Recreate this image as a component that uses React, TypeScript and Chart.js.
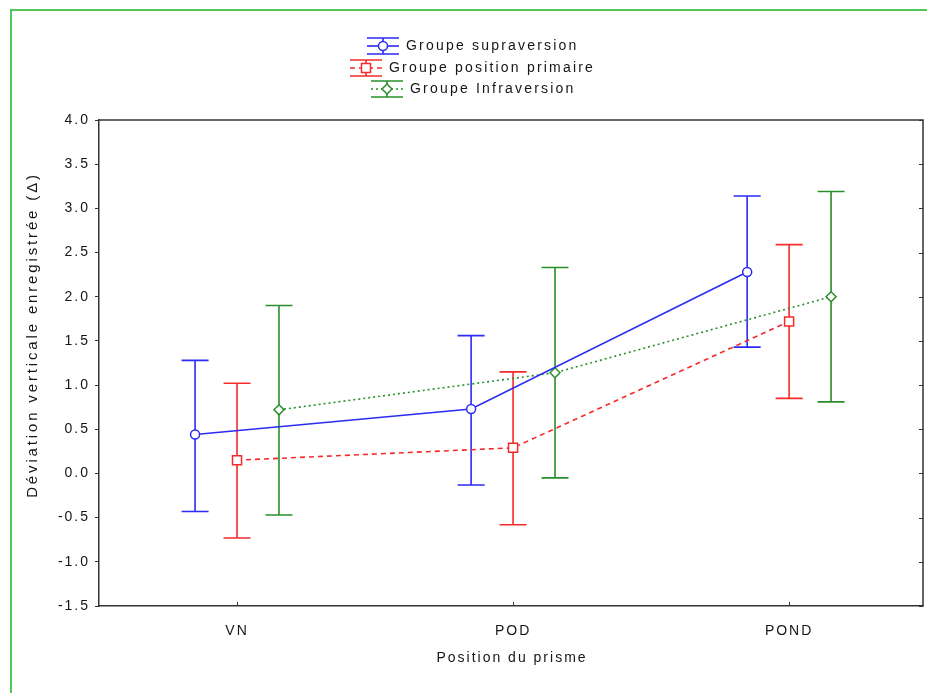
import React, { useEffect, useRef } from 'react';
import { Chart, registerables } from 'chart.js';

Chart.register(...registerables);

const categories = ['VN', 'POD', 'POND'];
const seriesNames = ['Groupe supraversion', 'Groupe position primaire', 'Groupe Infraversion'];

const supraMean = [0.44, 0.73, 2.28];
const supraLow = [-0.43, -0.13, 1.43];
const supraHigh = [1.28, 1.56, 3.14];

const primMean = [0.15, 0.29, 1.72];
const primLow = [-0.73, -0.58, 0.85];
const primHigh = [1.02, 1.15, 2.59];

const infraMean = [0.72, 1.14, 2.0];
const infraLow = [-0.47, -0.05, 0.81];
const infraHigh = [1.9, 2.33, 3.19];

const yTickValues = [-1.5, -1.0, -0.5, 0.0, 0.5, 1.0, 1.5, 2.0, 2.5, 3.0, 3.5, 4.0];
const groupOffsets = [-0.152, 0, 0.152];

const xTitle = 'Position du prisme';
const yTitle = 'Déviation verticale enregistrée (Δ)';

const BLUE = '#2b2bf5';
const RED = '#f52b2b';
const GREEN = '#2a8f2a';
const FONT = '"Liberation Sans", Arial, sans-serif';
const TEXT = '#161616';

function drawMarker(ctx: CanvasRenderingContext2D, style: string, x: number, y: number, color: string) {
  ctx.save();
  ctx.setLineDash([]);
  ctx.lineWidth = 1.5;
  ctx.strokeStyle = color;
  ctx.fillStyle = '#fff';
  ctx.beginPath();
  if (style === 'circle') {
    ctx.arc(x, y, 4.5, 0, Math.PI * 2);
  } else if (style === 'rect') {
    ctx.rect(x - 4.5, y - 4.5, 9, 9);
  } else {
    ctx.moveTo(x - 5, y);
    ctx.lineTo(x, y - 5);
    ctx.lineTo(x + 5, y);
    ctx.lineTo(x, y + 5);
    ctx.closePath();
  }
  ctx.fill();
  ctx.stroke();
  ctx.restore();
}

const errorBarPlugin = {
  id: 'errorBars',
  beforeDatasetsDraw(chart: any) {
    const ctx = chart.ctx;
    const xs = chart.scales.x;
    const ys = chart.scales.y;
    chart.data.datasets.forEach((ds: any) => {
      ctx.save();
      ctx.strokeStyle = ds.borderColor;
      ctx.lineWidth = 1.6;
      ctx.setLineDash([]);
      ds.data.forEach((p: any, j: number) => {
        const x = xs.getPixelForValue(p.x);
        const yl = ys.getPixelForValue(ds.errLow[j]);
        const yh = ys.getPixelForValue(ds.errHigh[j]);
        ctx.beginPath();
        ctx.moveTo(x, yl);
        ctx.lineTo(x, yh);
        ctx.moveTo(x - 13.5, yl);
        ctx.lineTo(x + 13.5, yl);
        ctx.moveTo(x - 13.5, yh);
        ctx.lineTo(x + 13.5, yh);
        ctx.stroke();
      });
      ctx.restore();
    });
  },
};

const framePlugin = {
  id: 'frame',
  beforeDraw(chart: any) {
    const ctx = chart.ctx;
    (ctx as any).letterSpacing = '2px';
  },
  afterDraw(chart: any) {
    const ctx = chart.ctx;
    const { left, right, top, bottom } = chart.chartArea;
    const ys = chart.scales.y;
    const xs = chart.scales.x;
    ctx.save();
    ctx.setLineDash([]);
    ctx.strokeStyle = '#333';
    ctx.lineWidth = 1.5;
    ctx.beginPath();
    ctx.moveTo(left, top);
    ctx.lineTo(right, top);
    ctx.lineTo(right, bottom);
    ctx.stroke();
    ctx.lineWidth = 1;
    ctx.beginPath();
    yTickValues.forEach((v) => {
      const y = Math.round(ys.getPixelForValue(v)) + 0.5;
      ctx.moveTo(right - 4, y);
      ctx.lineTo(right, y);
    });
    categories.forEach((_, i) => {
      const x = Math.round(xs.getPixelForValue(i)) + 0.5;
      ctx.moveTo(x, bottom);
      ctx.lineTo(x, bottom - 4);
    });
    ctx.stroke();

    ctx.strokeStyle = '#52c85a';
    ctx.lineWidth = 2;
    ctx.beginPath();
    ctx.moveTo(11, 693);
    ctx.lineTo(11, 10);
    ctx.lineTo(927, 10);
    ctx.stroke();

    ctx.fillStyle = TEXT;
    ctx.font = `14px ${FONT}`;
    (ctx as any).letterSpacing = '2px';
    ctx.textAlign = 'center';
    ctx.textBaseline = 'middle';
    ctx.fillText(xTitle, (left + right) / 2 + 1, 658);
    ctx.save();
    ctx.translate(33, 335);
    ctx.rotate(-Math.PI / 2);
    ctx.font = `15px ${FONT}`;
    (ctx as any).letterSpacing = '2.85px';
    ctx.fillText(yTitle, 0, 0);
    ctx.restore();

    const rows = [46, 68, 89];
    const colors = [BLUE, RED, GREEN];
    const dashes = [[], [5, 4], [2, 3]];
    const styles = ['circle', 'rect', 'rectRot'];
    const center = 473;
    ctx.font = `14px ${FONT}`;
    (ctx as any).letterSpacing = '2.2px';
    ctx.textAlign = 'left';
    seriesNames.forEach((name, i) => {
      const y = rows[i];
      const tw = ctx.measureText(name).width;
      const total = 39 + tw;
      const x0 = Math.round(center - total / 2);
      ctx.strokeStyle = colors[i];
      ctx.lineWidth = 1.6;
      ctx.setLineDash([]);
      ctx.beginPath();
      ctx.moveTo(x0, y - 8);
      ctx.lineTo(x0 + 32, y - 8);
      ctx.moveTo(x0, y + 8);
      ctx.lineTo(x0 + 32, y + 8);
      ctx.moveTo(x0 + 16, y - 8);
      ctx.lineTo(x0 + 16, y + 8);
      ctx.stroke();
      ctx.setLineDash(dashes[i]);
      ctx.beginPath();
      ctx.moveTo(x0, y);
      ctx.lineTo(x0 + 32, y);
      ctx.stroke();
      ctx.setLineDash([]);
      drawMarker(ctx, styles[i], x0 + 16, y, colors[i]);
      ctx.fillStyle = TEXT;
      ctx.fillText(name, x0 + 39, y);
    });
    ctx.restore();
    (ctx as any).letterSpacing = '0px';
  },
};

function makeDataset(
  label: string,
  means: number[],
  lows: number[],
  highs: number[],
  color: string,
  dash: number[],
  style: string,
  radius: number,
  offset: number
) {
  return {
    label,
    data: means.map((m, i) => ({ x: i + offset, y: m })),
    errLow: lows,
    errHigh: highs,
    borderColor: color,
    backgroundColor: color,
    borderWidth: 1.6,
    borderDash: dash,
    pointStyle: style,
    pointRadius: radius,
    pointHoverRadius: radius,
    pointBackgroundColor: '#fff',
    pointBorderColor: color,
    pointBorderWidth: 1.5,
    fill: false,
    tension: 0,
  };
}

export default function App() {
  const ref = useRef<HTMLCanvasElement | null>(null);

  useEffect(() => {
    document.body.style.margin = '0';
    const canvas = ref.current;
    if (!canvas) return;
    const tickFont = { family: FONT, size: 14 };
    const chart = new Chart(canvas, {
      type: 'line',
      data: {
        datasets: [
          makeDataset(seriesNames[0], supraMean, supraLow, supraHigh, BLUE, [], 'circle', 4.5, groupOffsets[0]),
          makeDataset(seriesNames[1], primMean, primLow, primHigh, RED, [5, 4], 'rect', 6.4, groupOffsets[1]),
          makeDataset(seriesNames[2], infraMean, infraLow, infraHigh, GREEN, [2, 3], 'rectRot', 5, groupOffsets[2]),
        ] as any,
      },
      options: {
        animation: false,
        responsive: false,
        devicePixelRatio: 1,
        layout: { autoPadding: false, padding: { top: 120, right: 4, left: 0, bottom: 0 } },
        plugins: {
          legend: { display: false },
          tooltip: { enabled: false },
        },
        scales: {
          x: {
            type: 'linear',
            min: -0.5,
            max: 2.485,
            afterBuildTicks: (s: any) => {
              s.ticks = categories.map((_, i) => ({ value: i }));
            },
            afterFit: (s: any) => {
              s.height = 87;
              s.paddingRight = 0;
              s.paddingLeft = 0;
            },
            ticks: {
              callback: (_v: any, i: number) => categories[i],
              font: tickFont,
              color: TEXT,
              padding: 17,
              autoSkip: false,
              maxRotation: 0,
            },
            grid: { display: false, drawTicks: false },
            border: { display: true, color: '#333', width: 1.5 },
          },
          y: {
            type: 'linear',
            min: -1.5,
            max: 4,
            afterBuildTicks: (s: any) => {
              s.ticks = yTickValues.map((v) => ({ value: v }));
            },
            afterFit: (s: any) => {
              s.width = 99;
              s.paddingTop = 0;
              s.paddingBottom = 0;
            },
            ticks: {
              callback: (v: any) => Number(v).toFixed(1),
              font: tickFont,
              color: TEXT,
              padding: 5,
              autoSkip: false,
            },
            grid: { display: true, drawOnChartArea: false, drawTicks: true, tickLength: 4, color: '#333' },
            border: { display: true, color: '#333', width: 1.5 },
          },
        },
      } as any,
      plugins: [errorBarPlugin, framePlugin],
    });
    return () => chart.destroy();
  }, []);

  return (
    <div style={{ width: 927, height: 693, background: '#fff' }}>
      <canvas ref={ref} width={927} height={693} style={{ display: 'block', width: 927, height: 693 }} />
    </div>
  );
}
